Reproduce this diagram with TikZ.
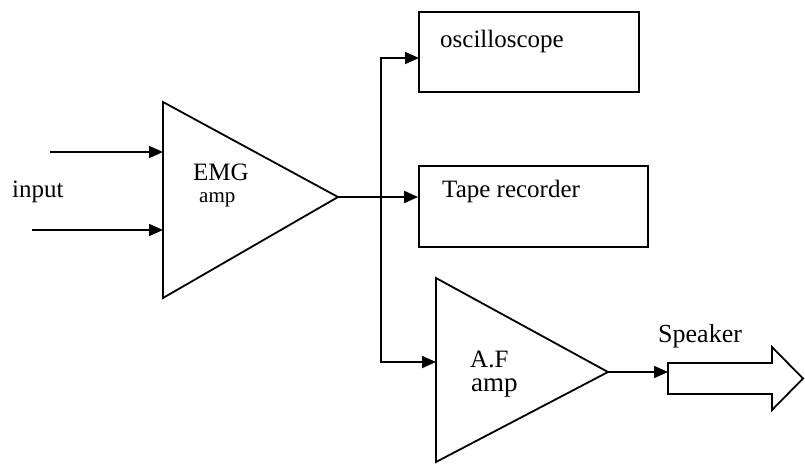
\documentclass[tikz,border=0pt]{standalone}
\usepackage{fontspec}
\setmainfont{Liberation Serif}
\usetikzlibrary{arrows.meta}
\begin{document}
\begin{tikzpicture}[x=1pt,y=-1pt,
  line/.style={line width=1.8pt},
  arr/.style={line width=1.8pt,-{Triangle[length=14pt,width=12pt]}},
  box/.style={draw,line width=1.8pt,inner sep=0pt},
  lbl/.style={anchor=base west,inner sep=0pt,font=\fontsize{25}{29}\selectfont},
  slbl/.style={anchor=base west,inner sep=0pt,font=\fontsize{21}{25}\selectfont}]
\useasboundingbox (0,0) rectangle (805,464);
% EMG amplifier
\coordinate (e1) at (163,102);
\coordinate (e2) at (163,298);
\coordinate (eo) at (338,197);
\draw[line,line join=miter] (e1) -- (eo) -- (e2) -- cycle;
\node[lbl] (emg) at (193,180) {EMG};
\node[slbl] (emgamp) at (199,202) {amp};
% inputs
\coordinate (in1) at (50,152);
\coordinate (in1e) at (163,152);
\coordinate (in2) at (32,230);
\coordinate (in2e) at (163,230);
\draw[arr] (in1) -- (in1e);
\draw[arr] (in2) -- (in2e);
\node[lbl] (input) at (12,197) {input};
% boxes
\node[box,minimum width=220pt,minimum height=80pt] (osc) at (529,52) {};
\node[lbl] (osct) at (440,47) {oscilloscope};
\node[box,minimum width=229pt,minimum height=81pt] (tape) at (533.5,206.5) {};
\node[lbl] (tapet) at (442,197) {Tape recorder};
% A.F amplifier
\coordinate (a1) at (436,278);
\coordinate (a2) at (436,462);
\coordinate (ao) at (608,372);
\draw[line,line join=miter] (a1) -- (ao) -- (a2) -- cycle;
\node[lbl] (af) at (470,367) {A.F};
\node[lbl,font=\fontsize{27}{31}\selectfont] (afamp) at (471,391) {amp};
% branch
\coordinate (bt) at (381,58);
\coordinate (bb) at (381,362);
\coordinate (oscin) at (419,58);
\coordinate (afin) at (436,362);
\draw[arr] (eo) -- (eo -| tape.west);
\draw[arr] (eo -| bt) -- (bt) -- (oscin);
\draw[arr] (eo -| bb) -- (bb) -- (afin);
% speaker
\coordinate (spin) at (668,372);
\draw[arr] (ao) -- (spin);
\draw[line,line join=miter] (668,363) -- (772,363) -- (772,347) -- (803,378.5) -- (772,410) -- (772,394) -- (668,394) -- cycle;
\node[lbl,font=\fontsize{26}{30}\selectfont] (spk) at (658,342) {Speaker};
\end{tikzpicture}
\end{document}
